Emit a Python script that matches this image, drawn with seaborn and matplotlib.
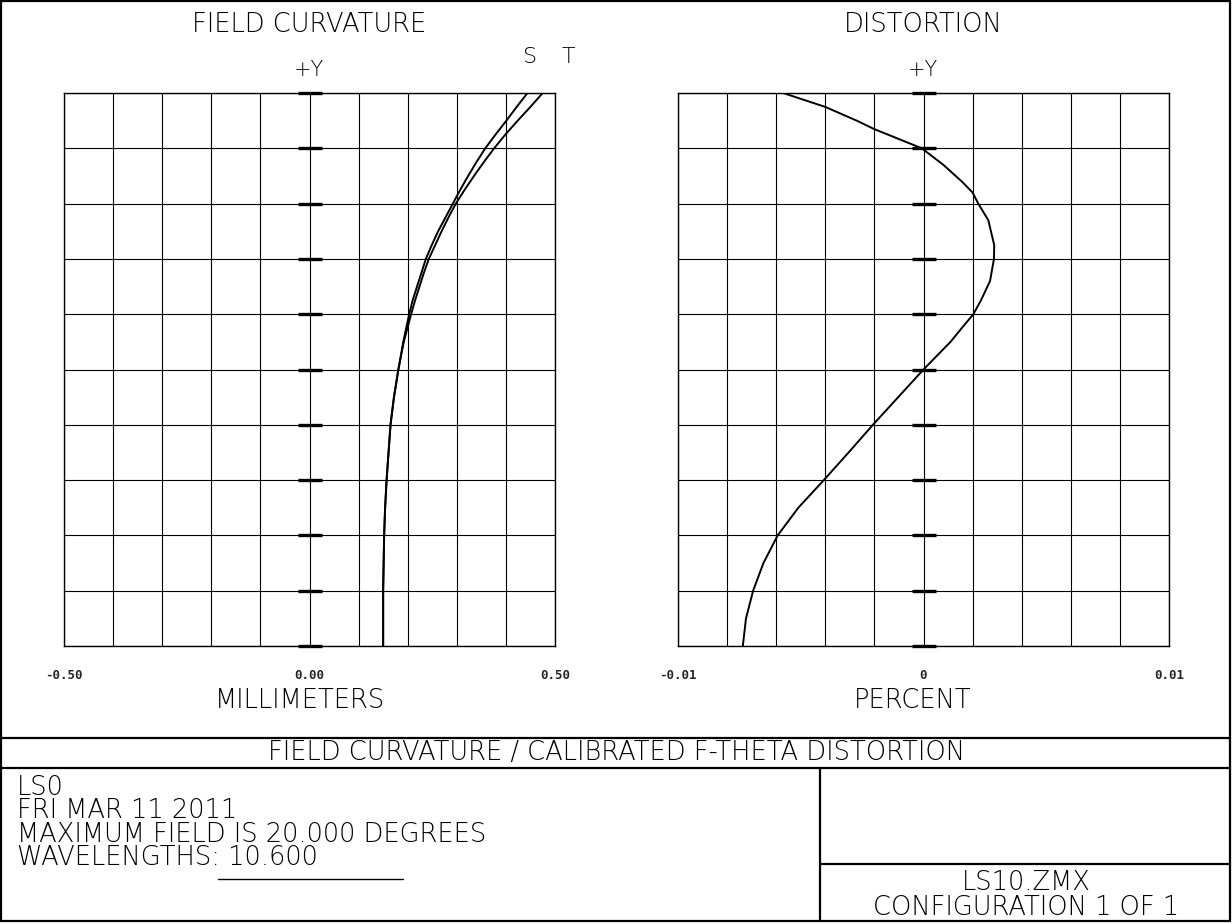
import numpy as np
import pandas as pd
import matplotlib
matplotlib.use("Agg")
import matplotlib.pyplot as plt
import seaborn as sns
from matplotlib.lines import Line2D
from matplotlib.ticker import FixedLocator, FixedFormatter

# ---------------- data ----------------
fc_field = [0.00, 0.05, 0.10, 0.15, 0.20, 0.25, 0.30, 0.35, 0.40, 0.45, 0.50, 0.55,
            0.600, 0.625, 0.650, 0.675, 0.700, 0.725, 0.750, 0.775, 0.800, 0.825,
            0.850, 0.875, 0.900, 0.925, 0.950, 0.975, 1.000]
sagittal_mm = [0.150, 0.150, 0.150, 0.151, 0.152, 0.154, 0.157, 0.161, 0.165, 0.172, 0.181, 0.191,
               0.203, 0.210, 0.219, 0.228, 0.237, 0.249, 0.262, 0.277, 0.292, 0.307,
               0.323, 0.340, 0.358, 0.379, 0.401, 0.422, 0.444]
tangential_mm = [0.150, 0.150, 0.150, 0.151, 0.152, 0.154, 0.157, 0.161, 0.165, 0.172, 0.181, 0.192,
                 0.207, 0.215, 0.224, 0.233, 0.243, 0.256, 0.269, 0.283, 0.298, 0.316,
                 0.335, 0.355, 0.376, 0.399, 0.424, 0.450, 0.475]

dist_field = [0.00, 0.05, 0.10, 0.15, 0.20, 0.25, 0.30, 0.35, 0.40, 0.45, 0.50, 0.55,
              0.575, 0.600, 0.625, 0.660, 0.700, 0.725, 0.770, 0.800, 0.820, 0.840,
              0.870, 0.900, 0.935, 0.950, 0.975, 1.000]
distortion_pct = [-0.00736, -0.00723, -0.00694, -0.00652, -0.00594, -0.00510, -0.00406,
                  -0.00305, -0.00206, -0.00103, 0.00000, 0.00110, 0.00156, 0.00203,
                  0.00234, 0.00271, 0.00287, 0.00288, 0.00264, 0.00223, 0.00200,
                  0.00156, 0.00081, -0.00007, -0.00202, -0.00272, -0.00401, -0.00572]

fc_xticks = [-0.5, -0.4, -0.3, -0.2, -0.1, 0.0, 0.1, 0.2, 0.3, 0.4, 0.5]
fc_xticklabels = ["-0.50", "", "", "", "", "0.00", "", "", "", "", "0.50"]
dist_xticks = [-0.01, -0.008, -0.006, -0.004, -0.002, 0.0, 0.002, 0.004, 0.006, 0.008, 0.01]
dist_xticklabels = ["-0.01", "", "", "", "", "0", "", "", "", "", "0.01"]
field_ticks = [0.0, 0.1, 0.2, 0.3, 0.4, 0.5, 0.6, 0.7, 0.8, 0.9, 1.0]

info_lines = ["LS0", "FRI MAR 11 2011", "MAXIMUM FIELD IS 20.000 DEGREES", "WAVELENGTHS: 10.600"]
file_lines = ["LS10.ZMX", "CONFIGURATION 1 OF 1"]

fc_df = pd.DataFrame({"field": fc_field + fc_field,
                      "focus": sagittal_mm + tangential_mm,
                      "curve": ["S"] * len(fc_field) + ["T"] * len(fc_field)})
dist_df = pd.DataFrame({"field": dist_field, "distortion": distortion_pct})

# ---------------- style ----------------
sns.set_style("white")
plt.rcParams["font.family"] = ["DejaVu Sans"]
W, H = 1232, 924
fig = plt.figure(figsize=(W / 100, H / 100), dpi=100)

def fx(px):
    return px / W

def fy(py):
    return 1 - py / H

def make_ax(left_px):
    return fig.add_axes([fx(left_px), fy(646), (555 - 64) / W, (646 - 93) / H])

ax1 = make_ax(64)
ax2 = make_ax(678)

def style_ax(ax, xticks, xlabels, xlim, minor_step):
    ax.set_xlim(*xlim)
    ax.set_ylim(0, 1)
    ax.xaxis.set_major_locator(FixedLocator(xticks))
    ax.xaxis.set_major_formatter(FixedFormatter(xlabels))
    minors = np.arange(xlim[0] + minor_step, xlim[1], 2 * minor_step)
    ax.xaxis.set_minor_locator(FixedLocator(minors))
    ax.set_yticks(field_ticks)
    ax.set_yticklabels([])
    ax.tick_params(axis="y", length=0)
    ax.tick_params(axis="x", which="major", direction="out", length=6.5, width=1,
                   color="black", pad=10, labelsize=9)
    ax.tick_params(axis="x", which="minor", direction="out", length=5, width=1,
                   color="black")
    for lab in ax.get_xticklabels():
        lab.set_fontweight("bold")
        lab.set_fontfamily("DejaVu Sans Mono")
    ax.grid(True, which="major", color="black", linewidth=0.8)
    for s in ax.spines.values():
        s.set_color("black")
        s.set_linewidth(1.0)
    ax.set_xlabel("")
    ax.set_ylabel("")
    # field marks on the +Y axis
    ax.plot([0] * len(field_ticks), field_ticks, linestyle="none", marker="_",
            markersize=17, markeredgewidth=2.4, color="black", clip_on=False, zorder=5)

sns.lineplot(data=fc_df, x="focus", y="field", units="curve", estimator=None,
             sort=False, color="black", linewidth=1.4, ax=ax1, legend=False)
style_ax(ax1, fc_xticks, fc_xticklabels, (-0.5, 0.5), 0.05)

sns.lineplot(data=dist_df, x="distortion", y="field", estimator=None, sort=False,
             color="black", linewidth=1.4, ax=ax2, legend=False)
style_ax(ax2, dist_xticks, dist_xticklabels, (-0.01, 0.01), 0.001)

# ---------------- text ----------------
BIG = 18.5
tkw = dict(ha="center", va="center", color="black", fontweight="light")
fig.text(fx(309), fy(24), "FIELD CURVATURE", fontsize=BIG, **tkw)
fig.text(fx(923), fy(24), "DISTORTION", fontsize=BIG, **tkw)
fig.text(fx(309), fy(70), "+Y", fontsize=15, **tkw)
fig.text(fx(923), fy(70), "+Y", fontsize=15, **tkw)
fig.text(fx(530), fy(57), "S", fontsize=16, **tkw)
fig.text(fx(568), fy(57), "T", fontsize=16, **tkw)
fig.text(fx(300), fy(701), "MILLIMETERS", fontsize=BIG, **tkw)
fig.text(fx(913), fy(701), "PERCENT", fontsize=BIG, **tkw)
fig.text(fx(616), fy(753), "FIELD CURVATURE / CALIBRATED F-THETA DISTORTION", fontsize=BIG, **tkw)

# multi-line blocks: va="baseline" anchors the last line's baseline
fig.text(fx(17), fy(865), "\n".join(info_lines), ha="left", va="baseline",
         fontsize=BIG, fontweight="light", color="black", linespacing=0.92)
fig.text(fx(1026), fy(915), "\n".join(file_lines), ha="center", va="baseline",
         multialignment="center", fontsize=BIG, fontweight="light", color="black",
         linespacing=0.99)

# ---------------- frame lines ----------------
def seg(x0, y0, x1, y1, lw=1.6):
    fig.add_artist(Line2D([fx(x0), fx(x1)], [fy(y0), fy(y1)], color="black",
                          linewidth=lw, transform=fig.transFigure))

seg(1, 1, 1230, 1)
seg(1, 1, 1, 921)
seg(1230, 1, 1230, 921)
seg(1, 921, 1230, 921)
seg(1, 738, 1230, 738)
seg(1, 768, 1230, 768)
seg(820, 768, 820, 921)
seg(820, 864, 1230, 864)
seg(218, 879, 403, 879, lw=1.0)

fig.savefig("out.png", dpi=100, facecolor="white")
